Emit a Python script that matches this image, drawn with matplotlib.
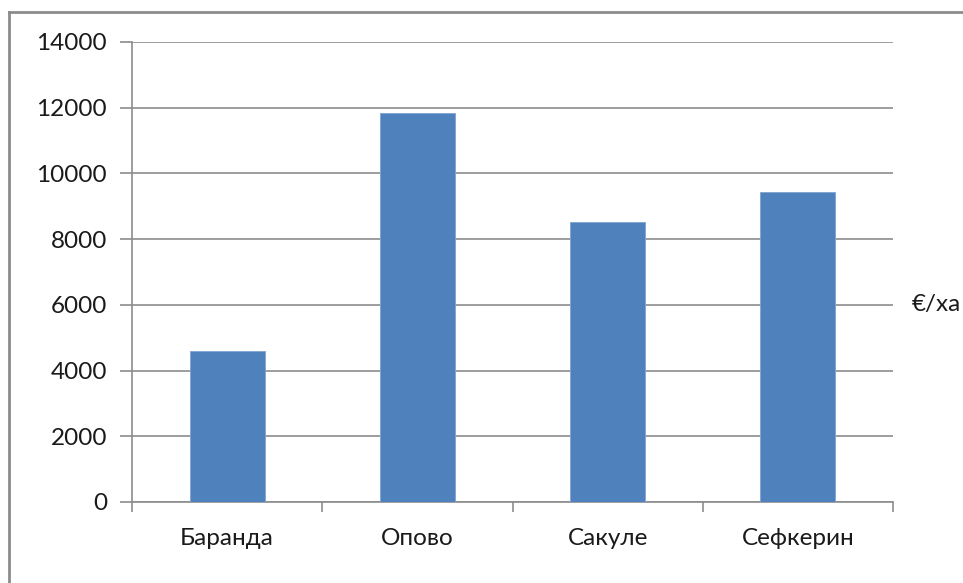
import matplotlib
matplotlib.use("Agg")
import matplotlib.pyplot as plt
from matplotlib.lines import Line2D

categories = ["Баранда", "Опово", "Сакуле", "Сефкерин"]
values = [4610, 11830, 8520, 9440]
yticks = [0, 2000, 4000, 6000, 8000, 10000, 12000, 14000]
unit_label = "€/ха"

plt.rcParams['font.family'] = ['Lato', 'DejaVu Sans']

W, H = 963, 583
fig = plt.figure(figsize=(W / 100, H / 100), dpi=100)
ax = fig.add_axes([132 / W, 1 - 502 / H, (893 - 132) / W, (502 - 42) / H])

x = list(range(len(categories)))
ax.bar(x, values, width=0.395, color="#4F81BD", edgecolor="#7FA3D3", linewidth=0.6, zorder=3)

FS = 17.5
ax.set_xlim(-0.5, len(categories) - 0.5)
ax.set_ylim(0, 14000)
ax.set_yticks(yticks)
ax.set_yticklabels([str(v) for v in yticks], fontsize=FS, color="#1a1a1a")
ax.set_xticks(x)
ax.set_xticklabels(categories, fontsize=FS, color="#1a1a1a")
ax.set_xticks([i - 0.5 for i in range(len(categories) + 1)], minor=True)

ax.grid(axis="y", color="#8C8C8C", linewidth=1.2, zorder=0)
for s in ["top", "right"]:
    ax.spines[s].set_visible(False)
for s in ["left", "bottom"]:
    ax.spines[s].set_color("#8C8C8C")
    ax.spines[s].set_linewidth(1.2)

ax.tick_params(axis="y", length=9, width=1.2, color="#8C8C8C", pad=9)
ax.tick_params(axis="x", which="major", length=0, pad=18.5)
ax.tick_params(axis="x", which="minor", length=7, width=1.2, color="#8C8C8C")

fig.text(912 / W, 1 - 304 / H, unit_label, fontsize=FS, color="#1a1a1a", va="center", ha="left")

# figure border (top and left)
fig.add_artist(Line2D([9 / W, 1.0], [1 - 12 / H, 1 - 12 / H], transform=fig.transFigure,
                      color="#8C8C8C", linewidth=2))
fig.add_artist(Line2D([9 / W, 9 / W], [0, 1 - 12 / H], transform=fig.transFigure,
                      color="#8C8C8C", linewidth=2))

fig.savefig("out.png", dpi=100)
